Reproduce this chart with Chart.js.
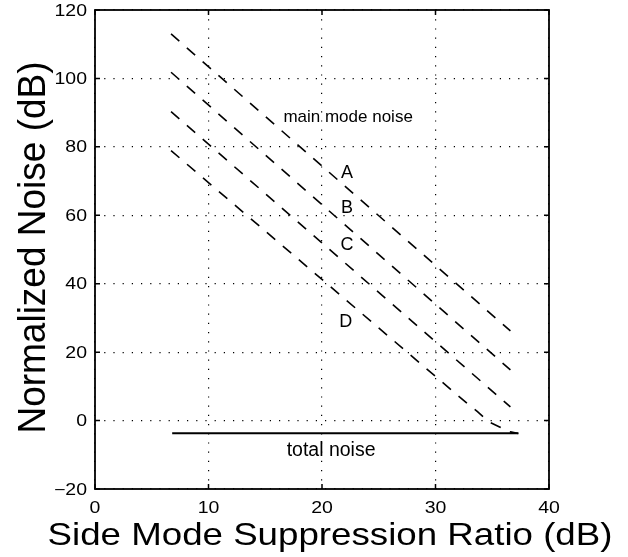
<!DOCTYPE html>
<html>
<head>
<meta charset="utf-8">
<script src="https://cdn.jsdelivr.net/npm/chart.js@4/dist/chart.umd.min.js"></script>
<style>
html,body{margin:0;padding:0;background:#fff;}
#wrap{width:628px;height:557px;}
</style>
</head>
<body>
<div id="wrap"><canvas id="c" width="628" height="557"></canvas></div>
<script>
// ---- data ----
const xTickMin = 0, xTickMax = 40, xTickStep = 10;
const yTickMin = -20, yTickMax = 120, yTickStep = 20;
const xTitle = 'Side Mode Suppression Ratio (dB)';
const yTitle = 'Normalized Noise (dB)';

const lineX = [6.7, 36.6];
const lineA = [113.0, 26.2];
const lineB = [101.8, 14.8];
const lineC = [90.3, 4.0];
const lineDX = [6.7, 32.9, 33.7, 34.7, 35.6, 36.6, 37.3];
const lineDY = [78.9, 4.7, 2.6, -0.4, -1.8, -3.3, -3.8];
const totalX = [6.8, 37.3];
const totalY = [-3.7, -3.7];

const annoText = ['main mode noise', 'A', 'B', 'C', 'D', 'total noise'];
const annoX = [22.3, 22.2, 22.2, 22.2, 22.1, 20.8];
const annoY = [88.7, 72.4, 62.1, 51.3, 28.8, -8.9];
const annoSize = [17, 18, 18, 18, 18, 19.5];

const FONT = '"Liberation Sans", Arial, Helvetica, sans-serif';

function pts(xs, ys) { return xs.map((v, i) => ({x: v, y: ys[i]})); }

function dashed(data) {
  return {data: data, borderColor: '#000', borderWidth: 1.6, borderDash: [11, 10],
          pointRadius: 0, fill: false, tension: 0};
}

function fmt(v) { return String(v).replace('-', '\u2212'); }

function drawText(ctx, text, x, y, size, align, sy, rot) {
  ctx.save();
  ctx.translate(x, y);
  if (rot) ctx.rotate(rot);
  ctx.scale(1, sy);
  ctx.font = size + 'px ' + FONT;
  ctx.textAlign = align;
  ctx.textBaseline = 'alphabetic';
  ctx.fillText(text, 0, 0);
  ctx.restore();
}

const framePlugin = {
  id: 'frame',
  afterDraw(chart) {
    const {ctx, chartArea: {left, right, top, bottom}, scales: {x, y}} = chart;
    ctx.save();
    ctx.strokeStyle = '#000';
    ctx.fillStyle = '#000';
    ctx.setLineDash([]);
    ctx.lineWidth = 1.8;
    ctx.strokeRect(left, top, right - left, bottom - top);
    ctx.lineWidth = 1.5;
    const tl = 5;
    ctx.beginPath();
    x.ticks.forEach(t => {
      const px = x.getPixelForValue(t.value);
      ctx.moveTo(px, bottom); ctx.lineTo(px, bottom - tl);
      ctx.moveTo(px, top); ctx.lineTo(px, top + tl);
    });
    y.ticks.forEach(t => {
      const py = y.getPixelForValue(t.value);
      ctx.moveTo(left, py); ctx.lineTo(left + tl, py);
      ctx.moveTo(right, py); ctx.lineTo(right - tl, py);
    });
    ctx.stroke();

    // tick labels (through the scales)
    const tSize = 19.5, tSy = 0.8;
    x.ticks.forEach(t => {
      drawText(ctx, fmt(t.value), x.getPixelForValue(t.value), bottom + 24, tSize, 'center', tSy, 0);
    });
    y.ticks.forEach(t => {
      drawText(ctx, fmt(t.value), left - 8, y.getPixelForValue(t.value) + 0.358 * tSize * tSy,
               tSize, 'right', tSy, 0);
    });

    // axis titles
    drawText(ctx, xTitle, (left + right) / 2 + 8, bottom + 56, 36.7, 'center', 0.86, 0);
    drawText(ctx, yTitle, left - 50, (top + bottom) / 2 - 2, 37, 'center', 1.04, -Math.PI / 2);

    // annotations
    annoText.forEach((t, i) => {
      ctx.save();
      ctx.font = annoSize[i] + 'px ' + FONT;
      ctx.textAlign = 'center';
      ctx.textBaseline = 'middle';
      ctx.fillText(t, x.getPixelForValue(annoX[i]), y.getPixelForValue(annoY[i]));
      ctx.restore();
    });
    ctx.restore();
  }
};

new Chart(document.getElementById('c'), {
  type: 'line',
  data: {
    datasets: [
      dashed(pts(lineX, lineA)),
      dashed(pts(lineX, lineB)),
      dashed(pts(lineX, lineC)),
      dashed(pts(lineDX, lineDY)),
      {data: pts(totalX, totalY), borderColor: '#000', borderWidth: 1.8, pointRadius: 0, fill: false}
    ]
  },
  options: {
    responsive: false,
    animation: false,
    layout: {padding: {left: 0, top: 10, right: 79, bottom: 0}},
    plugins: {legend: {display: false}, tooltip: {enabled: false}},
    scales: {
      x: {
        type: 'linear', min: xTickMin, max: xTickMax,
        ticks: {stepSize: xTickStep, display: false},
        grid: {color: '#000', lineWidth: 1.2, drawTicks: false},
        border: {display: false, dash: [1.2, 8]},
        title: {display: false},
        afterFit(s) { s.height = 68; }
      },
      y: {
        type: 'linear', min: yTickMin, max: yTickMax,
        ticks: {stepSize: yTickStep, display: false},
        grid: {color: '#000', lineWidth: 1.2, drawTicks: false},
        border: {display: false, dash: [1.2, 8]},
        title: {display: false},
        afterFit(s) { s.width = 95; }
      }
    }
  },
  plugins: [framePlugin]
});
</script>
</body>
</html>
